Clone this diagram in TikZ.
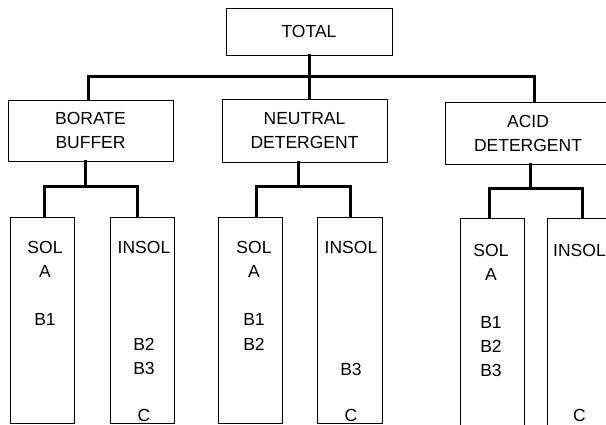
\documentclass[tikz,border=0pt]{standalone}
\usepackage{fontspec}
\setmainfont{Liberation Sans}
\begin{document}
\begin{tikzpicture}[x=1pt,y=-1pt,
  box/.style={draw,line width=0.9pt,rectangle,inner sep=0pt,align=center,
    font=\fontsize{17.5}{24}\selectfont},
  lbl/.style={inner sep=0pt,anchor=base,font=\fontsize{17.5}{20}\selectfont},
  conn/.style={line width=3pt,line join=miter,line cap=rect}]
\useasboundingbox (0,0) rectangle (606,425);
\begin{scope}
\clip (0,0) rectangle (606,425);
% top level
\node[box,minimum width=166pt,minimum height=47pt] (total) at (309,31.5) {TOTAL};
\node[box,minimum width=165pt,minimum height=61pt] (borate) at (90.5,130.5) {BORATE\\BUFFER};
\node[box,minimum width=165pt,minimum height=63pt] (neutral) at (304.5,130.5) {NEUTRAL\\DETERGENT};
\node[box,minimum width=166pt,minimum height=62pt] (acid) at (528,133) {ACID\\DETERGENT};
% fraction boxes
\node[box,minimum width=64pt,minimum height=206pt] (sola) at (42,320) {};
\node[box,minimum width=64pt,minimum height=206pt] (insola) at (142,320) {};
\node[box,minimum width=64pt,minimum height=206pt] (solb) at (250,320) {};
\node[box,minimum width=65pt,minimum height=206pt] (insolb) at (349.5,320) {};
\node[box,minimum width=64pt,minimum height=222pt] (solc) at (492,329) {};
\node[box,minimum width=64pt,minimum height=222pt] (insolc) at (579,329) {};
% texts in boxes
\node[lbl] (sa1) at (45,253.5) {SOL};
\node[lbl] (sa2) at (45,278) {A};
\node[lbl] (sa3) at (45,325.3) {B1};
\node[lbl] (ia1) at (144,253.5) {INSOL};
\node[lbl] (ia2) at (144,350.3) {B2};
\node[lbl] (ia3) at (144,374.7) {B3};
\node[lbl] (ia4) at (144,421) {C};
\node[lbl] (sb1) at (254,253.7) {SOL};
\node[lbl] (sb2) at (254,278) {A};
\node[lbl] (sb3) at (254,325) {B1};
\node[lbl] (sb4) at (254,350) {B2};
\node[lbl] (ib1) at (351,254) {INSOL};
\node[lbl] (ib2) at (351,375) {B3};
\node[lbl] (ib3) at (351,421) {C};
\node[lbl] (sc1) at (491,257) {SOL};
\node[lbl] (sc2) at (491,280.3) {A};
\node[lbl] (sc3) at (491,328) {B1};
\node[lbl] (sc4) at (491,352.5) {B2};
\node[lbl] (sc5) at (491,376.5) {B3};
\node[lbl] (ic1) at (579.5,257) {INSOL};
\node[lbl] (ic2) at (579.5,421) {C};
% junction coordinates
\coordinate (tL) at (88,77);
\coordinate (tM) at (309,77);
\coordinate (tR) at (534,77);
\coordinate (jb) at (85,187);
\coordinate (jbL) at (44,187);
\coordinate (jbR) at (137,187);
\coordinate (jn) at (298,187);
\coordinate (jnL) at (256,187);
\coordinate (jnR) at (350,187);
\coordinate (jc) at (530,189);
\coordinate (jcL) at (489,189);
\coordinate (jcR) at (582,189);
% connectors
\draw[conn] (tL |- borate.north) -- (tL) -- (tR) -- (tR |- acid.north);
\draw[conn] (total.south -| tM) -- (tM |- neutral.north);
\draw[conn] (jb |- borate.south) -- (jb);
\draw[conn] (jbL |- sola.north) -- (jbL) -- (jbR) -- (jbR |- insola.north);
\draw[conn] (jn |- neutral.south) -- (jn);
\draw[conn] (jnL |- solb.north) -- (jnL) -- (jnR) -- (jnR |- insolb.north);
\draw[conn] (jc |- acid.south) -- (jc);
\draw[conn] (jcL |- solc.north) -- (jcL) -- (jcR) -- (jcR |- insolc.north);
\end{scope}
\end{tikzpicture}
\end{document}
